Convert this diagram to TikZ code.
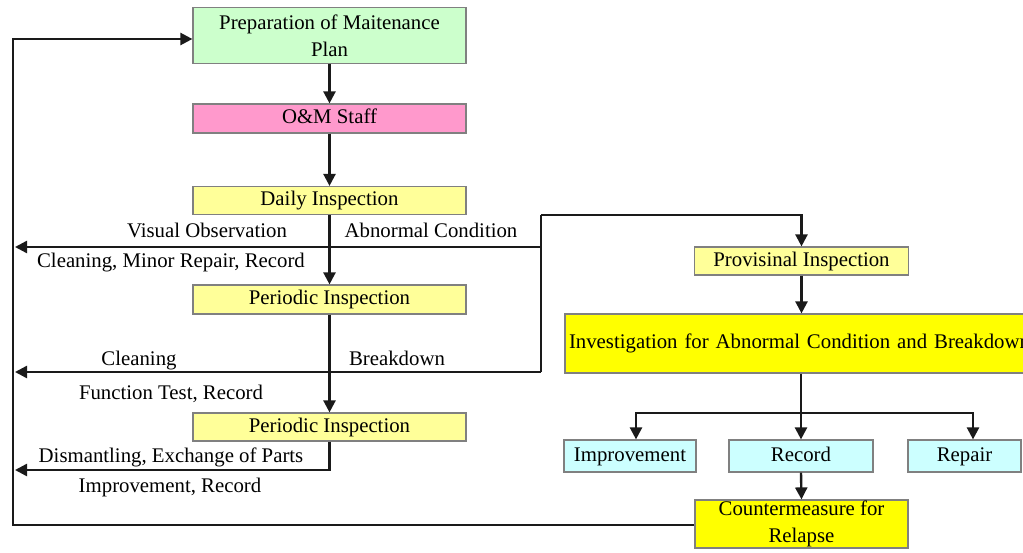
\documentclass[tikz,border=0pt]{standalone}
\usepackage{fontspec}
\setmainfont{Liberation Serif}
\usetikzlibrary{arrows.meta,calc}
\definecolor{planGreen}{HTML}{CCFFCC}
\definecolor{staffPink}{HTML}{FF99CC}
\definecolor{paleYellow}{HTML}{FFFF99}
\definecolor{hotYellow}{HTML}{FFFF00}
\definecolor{paleCyan}{HTML}{CCFFFF}
\definecolor{boxEdge}{HTML}{808080}
\definecolor{lineCol}{HTML}{1A1A1A}
\begin{document}
\begin{tikzpicture}[x=1pt,y=-1pt,
  box/.style={draw=boxEdge, line width=1.2pt, inner sep=0pt, align=center,
              text=black, font=\fontsize{20.8}{27}\selectfont},
  oneline/.style={text height=14.5pt, text depth=4.5pt},
  lbl/.style={inner sep=0pt, text=black, oneline, font=\fontsize{20.8}{25}\selectfont},
  link/.style={draw=lineCol, line width=2.4pt},
  arr/.style={link, -{Triangle[length=12pt,width=12pt]}}]
\useasboundingbox (0,0) rectangle (1023,552);

% left column: planning and routine inspections
\node[box, fill=planGreen, minimum width=273pt, minimum height=56pt] (plan) at (329.5,35.5) {Preparation of Maitenance\\Plan};
\node[box, oneline, fill=staffPink, minimum width=273pt, minimum height=29pt] (staff) at (329.5,118.5) {O\&M Staff};
\node[box, oneline, fill=paleYellow, minimum width=273pt, minimum height=28pt] (daily) at (329.5,200.5) {Daily Inspection};
\node[box, oneline, fill=paleYellow, minimum width=273pt, minimum height=29pt] (per1) at (329.5,299.5) {Periodic Inspection};
\node[box, oneline, fill=paleYellow, minimum width=273pt, minimum height=28pt] (per2) at (329.5,427) {Periodic Inspection};

% right column: abnormal condition handling
\node[box, oneline, fill=paleYellow, minimum width=214pt, minimum height=28pt] (prov) at (801.5,261) {Provisinal Inspection};
\node[box, oneline, fill=hotYellow, minimum width=480pt, minimum height=59pt, text width=472pt, align=left] (inv) at (805,343.5) {Investigation for Abnormal Condition and Breakdown};
\node[box, oneline, fill=paleCyan, minimum width=132pt, minimum height=32pt] (imp) at (630,456) {Improvement};
\node[box, oneline, fill=paleCyan, minimum width=144pt, minimum height=32pt] (rec) at (801,456) {Record};
\node[box, oneline, fill=paleCyan, minimum width=113pt, minimum height=32pt] (rep) at (964.5,456) {Repair};
\node[box, fill=hotYellow, minimum width=213pt, minimum height=48pt] (cm) at (801.5,524) {Countermeasure for\\Relapse};

% edge labels
\node[lbl] (lvis) at (207,232) {Visual Observation};
\node[lbl] (labn) at (431,232) {Abnormal Condition};
\node[lbl] (lcmr) at (171,262) {Cleaning, Minor Repair, Record};
\node[lbl] (lcln) at (139,360) {Cleaning};
\node[lbl] (lbrk) at (397,360) {Breakdown};
\node[lbl] (lfun) at (171,394) {Function Test, Record};
\node[lbl] (ldis) at (171,457) {Dismantling, Exchange of Parts};
\node[lbl] (limp) at (170,487) {Improvement, Record};

% junction points
\coordinate (jTop) at (541,215);
\coordinate (jA) at (541,247);
\coordinate (jB) at (541,372);
\coordinate (backA) at (15,247);
\coordinate (backB) at (15,372);
\coordinate (backC) at (15,470);
\coordinate (loopLow) at (13,525);
\coordinate (loopTop) at (13,39);
\coordinate (br) at (801,413);

% main vertical flow
\draw[arr] (plan.south) -- (staff.north);
\draw[arr] (staff.south) -- (daily.north);
\draw[arr] (daily.south) -- (per1.north);
\draw[arr] (per1.south) -- (per2.north);
\draw[arr] (per2.south) |- (backC);

% returns to the left feedback line
\draw[arr] (jA) -- (backA);
\draw[link] (jTop) -- (jB);
\draw[arr] (jB) -- (backB);
\draw[arr] (jTop) -| (prov.north);

% investigation branch
\draw[arr] (prov.south) -- (prov.south |- inv.north);
\draw[link] (inv.south -| br) -- (br);
\draw[arr] (br) -| ($(imp.north)+(6,0)$);
\draw[arr] (br) -- (rec.north);
\draw[arr] (br) -| ($(rep.north)+(8.5,0)$);
\draw[arr] (rec.south) -- (cm.north);

% feedback loop to the plan
\draw[arr] (cm.west |- loopLow) -- (loopLow) -- (loopTop) -- (plan.west |- loopTop);
\end{tikzpicture}
\end{document}
